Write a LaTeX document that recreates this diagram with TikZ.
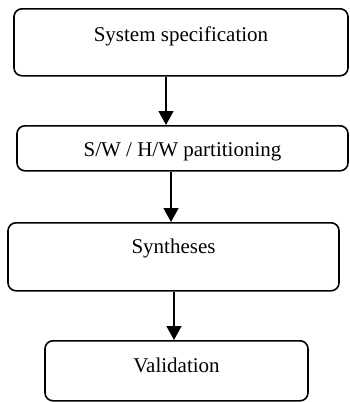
\documentclass[tikz,border=0pt]{standalone}
\usepackage{fontspec}
\setmainfont{Liberation Serif}
\usetikzlibrary{arrows.meta}

\begin{document}
\begin{tikzpicture}[x=1pt,y=-1pt]
        \tikzset{box/.style = {shape=rectangle,draw,rounded corners=8pt,line width=1.6pt,inner sep=0pt,anchor=north,font=\fontsize{21}{24}\selectfont}}
        \tikzset{edge/.style = {-{Triangle[length=14pt,width=15pt]},line width=1.6pt}}
        \useasboundingbox (0,0) rectangle (349,402);
        % boxes
        \node[box,minimum width=334pt,text height=33pt,text depth=34pt] (spec) at (181,8) {System specification};
        \node[box,minimum width=331pt,text height=31pt,text depth=14pt] (part) at (182.5,125) {S/W / H/W partitioning};
        \node[box,minimum width=331pt,text height=31pt,text depth=37pt] (synt) at (173.5,222) {Syntheses};
        \node[box,minimum width=263pt,text height=32pt,text depth=28pt] (vali) at (176.5,340) {Validation};
        % arrows
        \draw[edge] ([xshift=-15pt]spec.south) -- ([xshift=-15pt]spec.south |- part.north);
        \draw[edge] ([xshift=-11.5pt]part.south) -- ([xshift=-11.5pt]part.south |- synt.north);
        \draw[edge] ([xshift=0.5pt]synt.south) -- ([xshift=0.5pt]synt.south |- vali.north);
\end{tikzpicture}
\end{document}
